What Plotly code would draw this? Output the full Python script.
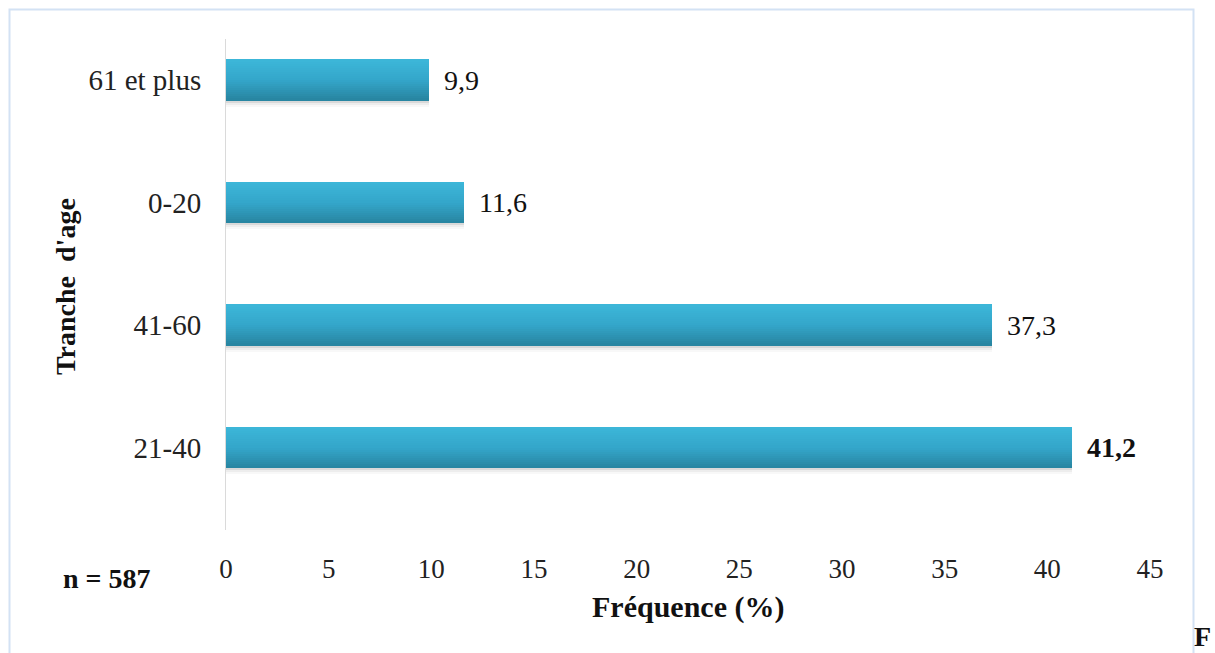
import plotly.graph_objects as go

# Age groups (bottom to top) and their share of the sample, in percent
categories = ["21-40", "41-60", "0-20", "61 et plus"]
values = [41.2, 37.3, 11.6, 9.9]
bold_labels = [True, False, False, False]
x_ticks = [0, 5, 10, 15, 20, 25, 30, 35, 40, 45]
sample_size = 587

SERIF = "Liberation Serif, Times New Roman, serif"

W, H = 1215, 653
L, R, T, B = 226, 65, 39, 123

fig = go.Figure()

# bar geometry (category units)
thick = 0.335
top_edge = thick / 2


def lerp(c1, c2, t):
    return "rgb({},{},{})".format(*[round(a + (b - a) * t) for a, b in zip(c1, c2)])


# soft drop shadow under each bar
shadow_steps = [(0.000, 0.018, 0.22), (0.018, 0.018, 0.10), (0.036, 0.015, 0.04)]
for start, w, op in shadow_steps:
    fig.add_trace(go.Bar(
        y=categories, x=values, orientation="h",
        offset=-top_edge - start - w, width=w,
        marker=dict(color=f"rgba(80,80,80,{op})", line=dict(width=0)),
        hoverinfo="skip", showlegend=False,
    ))

# vertical gradient: lighter top, darker bottom
top_c = (60, 182, 216)
mid_c = (52, 166, 202)
bot_c = (40, 134, 162)
n_strips = 20
sw = thick / n_strips
for i in range(n_strips):
    t = i / (n_strips - 1)
    if t < 0.5:
        col = lerp(top_c, mid_c, t / 0.5)
    else:
        col = lerp(mid_c, bot_c, (t - 0.5) / 0.5)
    fig.add_trace(go.Bar(
        y=categories, x=values, orientation="h",
        offset=top_edge - (i + 1) * sw, width=sw * 1.02,
        marker=dict(color=col, line=dict(width=0)),
        hoverinfo="skip", showlegend=False,
    ))

# value labels at the end of each bar
for cat, v, b in zip(categories, values, bold_labels):
    txt = f"{v:.1f}".replace(".", ",")
    if b:
        txt = f"<b>{txt}</b>"
    fig.add_annotation(
        x=v, y=cat, xref="x", yref="y", text=txt, showarrow=False,
        xanchor="left", yanchor="middle", xshift=13,
        font=dict(family=SERIF, size=28, color="#111111"),
    )

pw = W - L - R
ph = H - T - B


def px_x(x):
    return (x - L) / pw


def px_y(y):
    return (H - B - y) / ph


# axis titles and sample size note
fig.add_annotation(
    x=px_x(688), y=px_y(607), xref="paper", yref="paper",
    text="<b>Fréquence (%)</b>", showarrow=False,
    xanchor="center", yanchor="middle",
    font=dict(family=SERIF, size=30, color="#111111"),
)
fig.add_annotation(
    x=px_x(65), y=px_y(287), xref="paper", yref="paper",
    text="<b>Tranche  d'age</b>", showarrow=False, textangle=-90,
    xanchor="center", yanchor="middle",
    font=dict(family=SERIF, size=28, color="#111111"),
)
fig.add_annotation(
    x=px_x(107), y=px_y(578), xref="paper", yref="paper",
    text=f"<b>n = {sample_size}</b>", showarrow=False,
    xanchor="center", yanchor="middle",
    font=dict(family=SERIF, size=28, color="#111111"),
)
fig.add_annotation(
    x=px_x(1193), y=px_y(653), xref="paper", yref="paper",
    text="<b>F</b>", showarrow=False,
    xanchor="left", yanchor="bottom", borderpad=0,
    font=dict(family=SERIF, size=28, color="#111111"),
)

# light frame around the chart
fig.add_shape(
    type="rect", xref="paper", yref="paper",
    x0=px_x(9.5), x1=px_x(1193.5), y0=px_y(680), y1=px_y(9.5),
    line=dict(color="#D3E2F4", width=2), fillcolor="rgba(0,0,0,0)",
    layer="below",
)

fig.update_layout(
    width=W, height=H,
    margin=dict(l=L, r=R, t=T, b=B, pad=0),
    paper_bgcolor="white", plot_bgcolor="white",
    barmode="overlay", bargap=0,
    showlegend=False,
    xaxis=dict(
        range=[0, 45], tickvals=x_ticks, ticktext=[str(v) for v in x_ticks],
        showgrid=False, zeroline=False, showline=False,
        ticks="", ticklabelstandoff=20,
        tickfont=dict(family=SERIF, size=27, color="#222222"),
        fixedrange=True,
    ),
    yaxis=dict(
        categoryorder="array", categoryarray=categories,
        range=[-0.673, 3.335],
        showgrid=False, zeroline=False,
        showline=True, linecolor="#DADADA", linewidth=1,
        ticks="", ticklabelstandoff=18,
        tickfont=dict(family=SERIF, size=29, color="#222222"),
        fixedrange=True,
    ),
)

fig.write_html("out.html")
